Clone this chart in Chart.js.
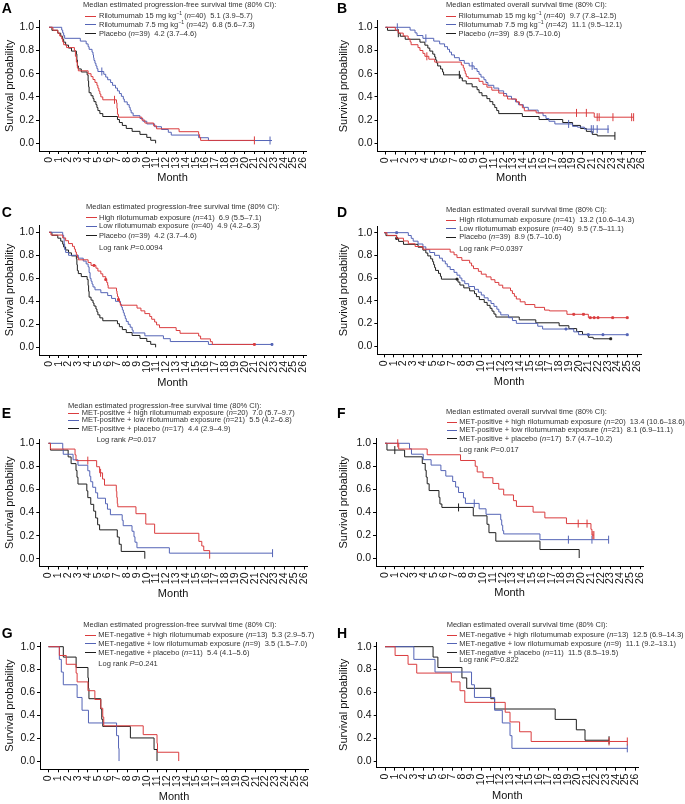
<!DOCTYPE html>
<html>
<head>
<meta charset="utf-8">
<script src="https://cdn.jsdelivr.net/npm/chart.js@4.4.1/dist/chart.umd.min.js"></script>
<style>
  body { margin: 0; background: #fff; }
  #fig { position: relative; width: 685px; height: 804px; overflow: hidden; font-family: "Liberation Sans", Arial, sans-serif; }
  #fig canvas { position: absolute; }
  .letter { position: absolute; font-weight: bold; font-size: 14px; line-height: 14px; color: #000; }
  .leg { position: absolute; font-size: 7.5px; line-height: 9px; color: #333; white-space: nowrap; }
  .leg sup { font-size: 5.2px; line-height: 0; vertical-align: 2.8px; }
  .swatch { position: absolute; height: 0; border-top: 1px solid; }
</style>
</head>
<body>
<div id="fig"></div>
<script>
// tick labels
const monthTicks = [0, 1, 2, 3, 4, 5, 6, 7, 8, 9, 10, 11, 12, 13, 14, 15, 16, 17, 18, 19, 20, 21, 22, 23, 24, 25, 26];
const probTicks = [0, 0.1, 0.2, 0.3, 0.4, 0.5, 0.6, 0.7, 0.8, 0.9, 1.0];

// Kaplan-Meier steps [month, survival]
// A: PFS by dose
const pfsRilo15 = [[0,1],[0.4,0.975],[0.9,0.95],[1.1,0.925],[1.3,0.9],[1.4,0.875],[1.5,0.85],[1.8,0.825],[2.6,0.8],[2.7,0.75],[2.8,0.7],[2.9,0.65],[3.0,0.625],[4.0,0.6],[4.3,0.575],[4.5,0.55],[4.7,0.525],[4.9,0.5],[5.0,0.475],[5.1,0.45],[5.2,0.425],[5.3,0.4],[5.5,0.375],[6.9,0.35],[6.95,0.3],[7.0,0.25],[7.1,0.225],[9.5,0.2],[9.8,0.175],[10.7,0.15],[11.0,0.125],[13.3,0.1],[15.3,0.075],[15.4,0.05],[15.5,0.025],[21.0,0.025]];
const pfsRilo15Cens = [6.7, 21.0];
const pfsRilo75 = [[0,1],[1.3,0.976],[1.4,0.952],[1.5,0.929],[1.6,0.905],[3.2,0.881],[3.8,0.857],[4.0,0.833],[4.1,0.81],[4.4,0.786],[4.5,0.762],[4.55,0.738],[4.6,0.714],[4.7,0.69],[4.8,0.667],[4.9,0.643],[5.0,0.619],[5.6,0.595],[5.8,0.571],[6.0,0.548],[6.3,0.524],[6.5,0.5],[6.8,0.476],[7.0,0.452],[7.2,0.429],[7.4,0.405],[7.6,0.381],[7.7,0.357],[8.0,0.333],[8.2,0.31],[8.3,0.286],[8.4,0.262],[8.6,0.238],[9.3,0.214],[9.6,0.19],[10.0,0.167],[10.8,0.143],[11.5,0.119],[12.2,0.095],[12.5,0.071],[15.3,0.048],[16.3,0.024],[22.8,0.024]];
const pfsRilo75Cens = [5.4, 22.6];
const pfsPlacebo = [[0,1],[0.3,0.974],[0.9,0.949],[1.2,0.923],[1.4,0.897],[1.5,0.872],[1.7,0.846],[2.0,0.821],[2.3,0.795],[2.8,0.769],[2.85,0.718],[2.9,0.667],[3.0,0.641],[3.3,0.615],[3.9,0.59],[4.0,0.538],[4.05,0.487],[4.1,0.436],[4.3,0.41],[4.5,0.385],[4.6,0.359],[4.8,0.333],[4.9,0.308],[5.0,0.282],[5.2,0.256],[5.5,0.231],[7.0,0.205],[7.2,0.179],[7.5,0.154],[7.9,0.128],[8.5,0.103],[9.3,0.077],[10.0,0.051],[10.4,0.026],[10.9,0]];

// B: OS by dose
const osRilo15 = [[0,1],[1.0,0.975],[1.3,0.95],[1.8,0.925],[2.3,0.9],[2.5,0.875],[2.6,0.85],[3.3,0.825],[3.5,0.8],[3.8,0.775],[4.0,0.75],[4.4,0.725],[5.0,0.7],[7.7,0.675],[7.9,0.65],[8.0,0.625],[8.1,0.6],[8.2,0.575],[8.4,0.56],[9.5,0.534],[9.9,0.509],[10.3,0.484],[10.8,0.458],[11.5,0.433],[12.0,0.408],[12.4,0.382],[13.3,0.357],[13.6,0.331],[13.9,0.306],[14.1,0.28],[15.3,0.262],[21.2,0.225],[25.2,0.225]];
const osRilo15Cens = [4.2, 19.4, 20.4, 21.5, 21.7, 23.1, 25.0, 25.2];
const osRilo75 = [[0,1],[2.5,0.976],[3.0,0.952],[3.2,0.929],[3.8,0.905],[4.9,0.881],[5.5,0.857],[6.0,0.833],[6.3,0.81],[6.5,0.786],[6.7,0.762],[7.0,0.738],[7.5,0.714],[8.0,0.69],[8.5,0.667],[9.0,0.643],[9.3,0.619],[9.5,0.595],[9.7,0.571],[10.0,0.548],[10.2,0.524],[10.4,0.5],[11.0,0.476],[11.5,0.452],[12.0,0.429],[12.3,0.405],[12.8,0.381],[13.2,0.357],[13.5,0.333],[14.0,0.31],[14.5,0.286],[15.5,0.262],[16.0,0.238],[16.3,0.214],[16.6,0.19],[17.2,0.167],[19.0,0.146],[19.5,0.139],[20.2,0.122],[22.7,0.122]];
const osRilo75Cens = [1.2, 4.1, 8.8, 18.6, 20.9, 21.1, 21.5, 22.6];
const osPlacebo = [[0,1],[0.2,0.974],[1.3,0.949],[1.5,0.923],[2.0,0.897],[3.5,0.872],[4.0,0.846],[4.3,0.821],[4.5,0.795],[4.8,0.769],[5.0,0.744],[5.1,0.718],[5.2,0.692],[5.3,0.667],[5.6,0.641],[5.8,0.615],[5.9,0.59],[7.6,0.564],[7.8,0.538],[8.2,0.513],[8.8,0.487],[9.3,0.462],[9.5,0.436],[9.8,0.41],[10.3,0.385],[10.6,0.359],[10.9,0.333],[11.1,0.308],[11.3,0.282],[11.5,0.256],[13.9,0.231],[15.6,0.205],[18.0,0.179],[19.0,0.154],[19.8,0.128],[20.4,0.103],[21.0,0.077],[21.5,0.064],[23.3,0.064]];
const osPlaceboCens = [1.3, 7.5, 23.3];

// C: PFS by exposure
const pfsHigh = [[0,1],[0.2,0.976],[1.4,0.951],[1.7,0.927],[2.0,0.902],[2.4,0.878],[2.6,0.854],[2.7,0.829],[2.8,0.805],[2.9,0.78],[3.0,0.761],[4.0,0.737],[4.3,0.712],[4.8,0.688],[5.0,0.663],[5.3,0.639],[5.5,0.614],[5.8,0.589],[5.9,0.564],[6.0,0.54],[6.05,0.515],[6.9,0.49],[6.95,0.465],[7.0,0.44],[7.1,0.415],[7.2,0.39],[7.3,0.366],[9.0,0.341],[9.4,0.317],[9.8,0.293],[10.3,0.268],[10.5,0.244],[10.8,0.22],[11.0,0.195],[11.3,0.171],[13.0,0.146],[13.4,0.122],[15.3,0.098],[15.5,0.073],[16.5,0.049],[16.7,0.025],[21.0,0.025]];
const pfsHighCens = [4.6, 5.8, 7.1, 21.0];
const pfsLow = [[0,1],[1.4,0.975],[1.5,0.95],[1.55,0.9],[1.6,0.85],[1.7,0.825],[2.0,0.8],[3.0,0.775],[3.5,0.75],[3.8,0.725],[4.0,0.7],[4.1,0.65],[4.2,0.6],[4.3,0.575],[4.4,0.55],[4.5,0.525],[4.7,0.5],[5.3,0.475],[6.0,0.45],[6.4,0.425],[6.8,0.4],[7.3,0.375],[7.4,0.35],[7.5,0.325],[7.6,0.3],[7.7,0.275],[7.8,0.25],[7.9,0.225],[8.1,0.2],[8.3,0.175],[8.5,0.15],[8.6,0.125],[9.8,0.1],[11.7,0.075],[12.4,0.05],[16.3,0.025],[22.8,0.025]];
const pfsLowCens = [22.8];

// D: OS by exposure
const osHigh = [[0,1],[0.3,0.976],[1.3,0.951],[2.0,0.927],[2.5,0.902],[3.2,0.878],[4.0,0.854],[6.8,0.829],[7.2,0.805],[7.5,0.78],[8.0,0.756],[8.8,0.732],[9.0,0.707],[9.2,0.683],[9.7,0.659],[10.0,0.634],[10.5,0.61],[11.0,0.585],[11.4,0.561],[11.8,0.537],[12.2,0.512],[13.0,0.488],[13.2,0.463],[13.4,0.439],[13.6,0.415],[14.0,0.39],[14.5,0.366],[15.5,0.341],[16.5,0.317],[17.0,0.31],[18.8,0.28],[21.0,0.25],[25.0,0.25]];
const osHighCens = [19.5, 20.5, 21.2, 21.6, 22.0, 23.5, 25.0];
const osLow = [[0,1],[2.5,0.975],[2.8,0.95],[3.0,0.925],[3.5,0.9],[4.0,0.875],[4.3,0.85],[4.7,0.825],[5.2,0.8],[5.7,0.775],[6.0,0.75],[6.3,0.725],[6.5,0.7],[6.8,0.675],[7.2,0.65],[7.5,0.625],[7.8,0.6],[8.0,0.575],[8.3,0.55],[8.7,0.525],[9.3,0.5],[9.7,0.475],[10.0,0.45],[10.3,0.425],[10.7,0.4],[11.0,0.375],[11.3,0.35],[11.6,0.325],[11.8,0.3],[12.0,0.275],[12.8,0.25],[13.2,0.225],[13.6,0.2],[15.8,0.175],[16.3,0.15],[19.5,0.125],[20.0,0.1],[25.0,0.1]];
const osLowCens = [1.3, 18.7, 21.0, 22.5, 25.0];

// E: PFS, MET-positive
const pfsMetPosHigh = [[0,1],[0.2,0.95],[2.7,0.9],[2.8,0.85],[4.9,0.797],[5.2,0.744],[5.5,0.69],[5.7,0.637],[6.9,0.584],[6.95,0.531],[7.0,0.478],[7.05,0.45],[8.9,0.39],[9.9,0.3],[10.8,0.22],[15.3,0.15],[15.6,0.11],[15.8,0.07],[16.4,0]];
const pfsMetPosHighCens = [4.0, 5.3];
const pfsMetPosLow = [[0,1],[1.45,0.952],[1.5,0.905],[2.5,0.857],[3.0,0.81],[4.0,0.762],[4.2,0.714],[4.3,0.667],[4.5,0.619],[4.8,0.571],[5.0,0.524],[5.8,0.476],[6.0,0.429],[6.3,0.381],[7.5,0.333],[7.6,0.286],[8.5,0.238],[8.7,0.19],[8.8,0.143],[9.0,0.095],[12.3,0.048],[22.8,0.048]];
const pfsMetPosLowCens = [22.8];
const pfsMetPosPlacebo = [[0,1],[0.2,0.941],[2.0,0.882],[2.3,0.824],[2.8,0.765],[2.9,0.706],[3.0,0.647],[3.9,0.588],[4.0,0.529],[4.3,0.471],[4.6,0.412],[4.8,0.353],[5.0,0.294],[5.2,0.25],[7.0,0.188],[7.2,0.125],[7.4,0.063],[9.8,0]];

// F: OS, MET-positive
const osMetPosHigh = [[0,1],[1.4,0.95],[4.3,0.9],[7.7,0.85],[9.2,0.8],[9.4,0.75],[10.0,0.7],[11.0,0.65],[11.6,0.6],[12.1,0.55],[13.1,0.5],[13.4,0.45],[15.1,0.4],[16.3,0.35],[18.5,0.3],[21.0,0.25],[21.1,0.2],[21.3,0.2]];
const osMetPosHighCens = [1.3, 19.7, 20.6, 21.2, 21.3];
const osMetPosLow = [[0,1],[2.5,0.952],[2.7,0.905],[3.9,0.857],[4.7,0.81],[5.7,0.762],[6.2,0.714],[6.9,0.667],[7.2,0.619],[7.5,0.571],[8.0,0.524],[8.2,0.476],[9.6,0.429],[10.3,0.381],[11.8,0.333],[11.9,0.286],[12.0,0.238],[12.1,0.21],[15.8,0.16],[22.8,0.16]];
const osMetPosLowCens = [9.1, 18.7, 21.1, 22.8];
const osMetPosPlacebo = [[0,1],[0.2,0.941],[2.0,0.882],[3.8,0.824],[4.1,0.765],[4.2,0.706],[4.3,0.647],[4.5,0.588],[5.5,0.529],[5.6,0.471],[5.8,0.441],[9.0,0.368],[10.4,0.294],[10.6,0.221],[11.3,0.147],[15.8,0.074],[19.8,0]];
const osMetPosPlaceboCens = [1.0, 7.5];

// G: PFS, MET-negative
const pfsMetNegHigh = [[0,1],[1.1,0.923],[1.8,0.846],[2.8,0.769],[2.9,0.692],[4.0,0.615],[4.7,0.538],[5.3,0.462],[5.5,0.385],[5.6,0.308],[9.6,0.231],[11.0,0.154],[11.05,0.077],[13.2,0]];
const pfsMetNegLow = [[0,1],[1.1,0.889],[1.3,0.778],[1.5,0.667],[2.9,0.556],[3.4,0.444],[4.05,0.333],[6.9,0.222],[7.1,0.111],[7.15,0]];
const pfsMetNegPlacebo = [[0,1],[1.5,0.909],[2.8,0.818],[4.0,0.727],[4.05,0.636],[4.1,0.545],[5.3,0.455],[5.4,0.364],[5.5,0.303],[8.3,0.202],[10.7,0.101],[11.0,0]];

// H: OS, MET-negative
const osMetNegHigh = [[0,1],[1.05,0.923],[2.4,0.846],[3.3,0.769],[6.9,0.692],[7.8,0.615],[8.3,0.513],[12.5,0.427],[13.0,0.342],[14.0,0.256],[15.2,0.171],[25.2,0.171]];
const osMetNegHighCens = [23.3, 25.2];
const osMetNegLow = [[0,1],[3.0,0.889],[5.2,0.778],[9.0,0.667],[9.3,0.556],[11.4,0.444],[12.2,0.333],[13.0,0.222],[13.2,0.111],[25.2,0.111]];
const osMetNegLowCens = [25.2];
const osMetNegPlacebo = [[0,1],[5.0,0.909],[5.5,0.818],[8.0,0.727],[8.5,0.636],[11.0,0.545],[11.4,0.455],[17.7,0.364],[19.9,0.273],[20.8,0.182],[23.3,0.182]];
const osMetNegPlaceboCens = [23.3];

// legend texts
const pfsTitle = 'Median estimated progression-free survival time (80% CI):';
const osTitle = 'Median estimated overall survival time (80% CI):';
const labelsA = ['Rilotumumab 15 mg kg<sup>−1</sup> (<i>n</i>=40)&nbsp; 5.1 (3.9–5.7)', 'Rilotumumab 7.5 mg kg<sup>−1</sup> (<i>n</i>=42)&nbsp; 6.8 (5.6–7.3)', 'Placebo (<i>n</i>=39)&nbsp; 4.2 (3.7–4.6)'];
const labelsB = ['Rilotumumab 15 mg kg<sup>−1</sup> (<i>n</i>=40)&nbsp; 9.7 (7.8–12.5)', 'Rilotumumab 7.5 mg kg<sup>−1</sup> (<i>n</i>=42)&nbsp; 11.1 (9.5–12.1)', 'Placebo (<i>n</i>=39)&nbsp; 8.9 (5.7–10.6)'];
const labelsC = ['High rilotumumab exposure (<i>n</i>=41)&nbsp; 6.9 (5.5–7.1)', 'Low rilotumumab exposure (<i>n</i>=40)&nbsp; 4.9 (4.2–6.3)', 'Placebo (<i>n</i>=39)&nbsp; 4.2 (3.7–4.6)'];
const labelsD = ['High rilotumumab exposure (<i>n</i>=41)&nbsp; 13.2 (10.6–14.3)', 'Low rilotumumab exposure (<i>n</i>=40)&nbsp; 9.5 (7.5–11.1)', 'Placebo (<i>n</i>=39)&nbsp; 8.9 (5.7–10.6)'];
const labelsE = ['MET-positive + high rilotumumab exposure (<i>n</i>=20)&nbsp; 7.0 (5.7–9.7)', 'MET-positive + low rilotumumab exposure (<i>n</i>=21)&nbsp; 5.5 (4.2–6.8)', 'MET-positive + placebo (<i>n</i>=17)&nbsp; 4.4 (2.9–4.9)'];
const labelsF = ['MET-positive + high rilotumumab exposure (<i>n</i>=20)&nbsp; 13.4 (10.6–18.6)', 'MET-positive + low rilotumumab exposure (<i>n</i>=21)&nbsp; 8.1 (6.9–11.1)', 'MET-positive + placebo (<i>n</i>=17)&nbsp; 5.7 (4.7–10.2)'];
const labelsG = ['MET-negative + high rilotumumab exposure (<i>n</i>=13)&nbsp; 5.3 (2.9–5.7)', 'MET-negative + low rilotumumab exposure (<i>n</i>=9)&nbsp; 3.5 (1.5–7.0)', 'MET-negative + placebo (<i>n</i>=11)&nbsp; 5.4 (4.1–5.6)'];
const labelsH = ['MET-negative + high rilotumumab exposure (<i>n</i>=13)&nbsp; 12.5 (6.9–14.3)', 'MET-negative + low rilotumumab exposure (<i>n</i>=9)&nbsp; 11.1 (9.2–13.1)', 'MET-negative + placebo (<i>n</i>=11)&nbsp; 11.5 (8.5–19.5)'];

const RED = 'rgb(218,60,62)';
const BLUE = 'rgb(84,100,182)';
const BLACK = '#1e1e1e';
const FONT = '"Liberation Sans", Arial, sans-serif';

const fig = document.getElementById('fig');

// survival value at time t (for placing censor marks on the curve)
function survAt(curve, t) {
    let s = curve[0][1];
    curve.forEach(([x, y]) => { if (x <= t) s = y; });
    return s;
}

function addDiv(cls, left, top, html, extra) {
    const d = document.createElement('div');
    d.className = cls;
    d.style.left = left + 'px';
    d.style.top = top + 'px';
    if (html) d.innerHTML = html;
    if (extra) Object.assign(d.style, extra);
    fig.appendChild(d);
    return d;
}

function drawPanel(p) {
    const g = p.geo;
    const cw = p.cx === 0 ? 340 : 350;
    const ch = g.monthY + 10 - p.cy;
    const canvas = document.createElement('canvas');
    canvas.width = cw;
    canvas.height = ch;
    canvas.style.left = p.cx + 'px';
    canvas.style.top = p.cy + 'px';
    fig.appendChild(canvas);

    // scale limits so that 0..26 and 0..1 land where the figure has them
    const ppm = (g.t26 - g.t0) / 26;
    const ppu = g.y0 - g.y1;
    const xMin = -(g.t0 - g.axisX) / ppm;
    const xMax = 26 + (g.right - g.t26) / ppm;
    const yMin = -(g.axisY - g.y0) / ppu;
    const yMax = 1 + (g.y1 - g.top) / ppu;

    const datasets = [];
    p.series.forEach(s => {
        datasets.push({
            data: s.curve.map(([x, y]) => ({ x, y })),
            borderColor: s.color,
            borderWidth: 1,
            stepped: true,
            pointRadius: 0,
            fill: false
        });
        if (s.cens && s.cens.length) {
            datasets.push({
                data: s.cens.map(t => ({ x: t, y: survAt(s.curve, t) })),
                showLine: false,
                pointStyle: p.mark === 'dot' ? 'rect' : 'line',
                pointRotation: 90,
                pointRadius: p.mark === 'dot' ? 1.3 : 4,
                pointBorderWidth: 1,
                pointBorderColor: s.color,
                pointBackgroundColor: s.color
            });
        }
    });

    new Chart(canvas, {
        type: 'line',
        data: { datasets },
        options: {
            responsive: false,
            animation: false,
            events: [],
            layout: { padding: { top: g.top - p.cy, right: p.cx + cw - g.right, left: 0, bottom: 0 } },
            plugins: { legend: { display: false }, tooltip: { enabled: false } },
            scales: {
                x: {
                    type: 'linear',
                    min: xMin,
                    max: xMax,
                    afterBuildTicks: sc => { sc.ticks = monthTicks.map(v => ({ value: v })); },
                    afterFit: sc => { sc.height = p.cy + ch - g.axisY; },
                    ticks: { autoSkip: false, minRotation: 90, maxRotation: 90, padding: 3, color: '#111',
                             font: { family: FONT, size: 10.5 }, callback: v => String(v) },
                    grid: { drawOnChartArea: false, tickLength: 3, color: '#000' },
                    border: { color: '#000', width: 1 },
                    title: { display: true, text: 'Month', color: '#111', font: { family: FONT, size: 11 },
                             padding: { top: 0, bottom: 3.4 } }
                },
                y: {
                    type: 'linear',
                    min: yMin,
                    max: yMax,
                    afterBuildTicks: sc => { sc.ticks = probTicks.map(v => ({ value: v })); },
                    afterFit: sc => { sc.width = g.axisX - p.cx; },
                    ticks: { padding: 2, color: '#111', font: { family: FONT, size: 10.5 },
                             callback: v => v.toFixed(1) },
                    grid: { drawOnChartArea: false, tickLength: 3, color: '#000' },
                    border: { color: '#000', width: 1 },
                    title: { display: true, text: 'Survival probability', color: '#111',
                             font: { family: FONT, size: 11 }, padding: { top: g.yTitleX - p.cx - 6.6, bottom: 0 } }
                }
            }
        }
    });

    // panel letter
    addDiv('letter', p.cx === 0 ? 1.7 : 337, p.letterTop - 1.85, p.letter);

    // legend block
    const L = p.legend;
    addDiv('leg', L.tx, L.ty - 4.7, p.title);
    p.series.forEach((s, i) => {
        addDiv('swatch', L.lx, L.rows[i], '', { width: L.lw + 'px', borderTopColor: s.color });
        addDiv('leg', L.textX, L.rows[i] - 4.7, p.labels[i]);
    });
    if (p.logRank) addDiv('leg', L.log[0], L.log[1] - 4.7, 'Log rank <i>P</i>=' + p.logRank);
}

const panels = [
    { letter: 'A', cx: 0, cy: 0, letterTop: 3.3, mark: 'tick', title: pfsTitle, labels: labelsA,
      geo: { axisX: 39, t0: 49, t26: 303.3, right: 306, top: 20.7, y1: 27.3, y0: 143.3, axisY: 151, monthY: 178, yTitleX: 10 },
      legend: { tx: 83, ty: 5, lx: 85, lw: 11, textX: 99, rows: [15.7, 24.3, 33.3] },
      series: [ { curve: pfsRilo15, cens: pfsRilo15Cens, color: RED },
                { curve: pfsRilo75, cens: pfsRilo75Cens, color: BLUE },
                { curve: pfsPlacebo, cens: [], color: BLACK } ] },
    { letter: 'B', cx: 335, cy: 0, letterTop: 3.3, mark: 'tick', title: osTitle, labels: labelsB,
      geo: { axisX: 377.5, t0: 385.5, t26: 641.5, right: 645, top: 20.7, y1: 27.3, y0: 143.3, axisY: 151.5, monthY: 178, yTitleX: 344 },
      legend: { tx: 446, ty: 5, lx: 446, lw: 10, textX: 458.5, rows: [15.7, 24.3, 33.3] },
      series: [ { curve: osRilo15, cens: osRilo15Cens, color: RED },
                { curve: osRilo75, cens: osRilo75Cens, color: BLUE },
                { curve: osPlacebo, cens: osPlaceboCens, color: BLACK } ] },
    { letter: 'C', cx: 0, cy: 200, letterTop: 206.7, mark: 'dot', title: pfsTitle, labels: labelsC, logRank: '0.0094',
      geo: { axisX: 39, t0: 49, t26: 303.3, right: 306, top: 225, y1: 232.3, y0: 347.3, axisY: 355, monthY: 383, yTitleX: 10 },
      legend: { tx: 86, ty: 206.7, lx: 86, lw: 11, textX: 99, rows: [217.3, 226, 235.3], log: [99, 247.7] },
      series: [ { curve: pfsHigh, cens: pfsHighCens, color: RED },
                { curve: pfsLow, cens: pfsLowCens, color: BLUE },
                { curve: pfsPlacebo, cens: [], color: BLACK } ] },
    { letter: 'D', cx: 335, cy: 200, letterTop: 206.7, mark: 'dot', title: osTitle, labels: labelsD, logRank: '0.0397',
      geo: { axisX: 377.3, t0: 384, t26: 637, right: 641, top: 226, y1: 232.7, y0: 346.7, axisY: 355, monthY: 382.7, yTitleX: 344 },
      legend: { tx: 446, ty: 210, lx: 446, lw: 10, textX: 459.3, rows: [220, 228.3, 236.7], log: [459.3, 248.3] },
      series: [ { curve: osHigh, cens: osHighCens, color: RED },
                { curve: osLow, cens: osLowCens, color: BLUE },
                { curve: osPlacebo, cens: osPlaceboCens, color: BLACK } ] },
    { letter: 'E', cx: 0, cy: 400, letterTop: 408.3, mark: 'tick', title: pfsTitle, labels: labelsE, logRank: '0.017',
      geo: { axisX: 39.3, t0: 48.5, t26: 304, right: 307, top: 439, y1: 443.3, y0: 558.7, axisY: 566.5, monthY: 594, yTitleX: 10 },
      legend: { tx: 68, ty: 406, lx: 68, lw: 11, textX: 81.7, rows: [412.7, 420, 428.3], log: [96.7, 439.3] },
      series: [ { curve: pfsMetPosHigh, cens: pfsMetPosHighCens, color: RED },
                { curve: pfsMetPosLow, cens: pfsMetPosLowCens, color: BLUE },
                { curve: pfsMetPosPlacebo, cens: [], color: BLACK } ] },
    { letter: 'F', cx: 335, cy: 400, letterTop: 408.3, mark: 'tick', title: osTitle, labels: labelsF, logRank: '0.017',
      geo: { axisX: 376, t0: 385, t26: 640, right: 643, top: 438.5, y1: 443.3, y0: 558.3, axisY: 566.5, monthY: 593.3, yTitleX: 344 },
      legend: { tx: 446, ty: 411.7, lx: 446.7, lw: 10, textX: 459.3, rows: [421.7, 430, 438.3], log: [459.3, 450] },
      series: [ { curve: osMetPosHigh, cens: osMetPosHighCens, color: RED },
                { curve: osMetPosLow, cens: osMetPosLowCens, color: BLUE },
                { curve: osMetPosPlacebo, cens: osMetPosPlaceboCens, color: BLACK } ] },
    { letter: 'G', cx: 0, cy: 600, letterTop: 628.3, mark: 'tick', title: pfsTitle, labels: labelsG, logRank: '0.241',
      geo: { axisX: 40, t0: 48.5, t26: 305, right: 308, top: 642, y1: 646.7, y0: 761.7, axisY: 770, monthY: 797.7, yTitleX: 10 },
      legend: { tx: 83.3, ty: 625, lx: 85, lw: 11, textX: 98.3, rows: [635, 643.3, 652.3], log: [98.3, 663.3] },
      series: [ { curve: pfsMetNegHigh, cens: [], color: RED },
                { curve: pfsMetNegLow, cens: [], color: BLUE },
                { curve: pfsMetNegPlacebo, cens: [], color: BLACK } ] },
    { letter: 'H', cx: 335, cy: 600, letterTop: 628.3, mark: 'tick', title: osTitle, labels: labelsH, logRank: '0.822',
      geo: { axisX: 376.7, t0: 385, t26: 635, right: 638, top: 642, y1: 646.7, y0: 761.7, axisY: 768.3, monthY: 796.7, yTitleX: 344 },
      legend: { tx: 446.7, ty: 625, lx: 446.7, lw: 10, textX: 459.3, rows: [635, 643.3, 652.3], log: [459.3, 660] },
      series: [ { curve: osMetNegHigh, cens: osMetNegHighCens, color: RED },
                { curve: osMetNegLow, cens: osMetNegLowCens, color: BLUE },
                { curve: osMetNegPlacebo, cens: osMetNegPlaceboCens, color: BLACK } ] }
];

panels.forEach(drawPanel);
</script>
</body>
</html>
